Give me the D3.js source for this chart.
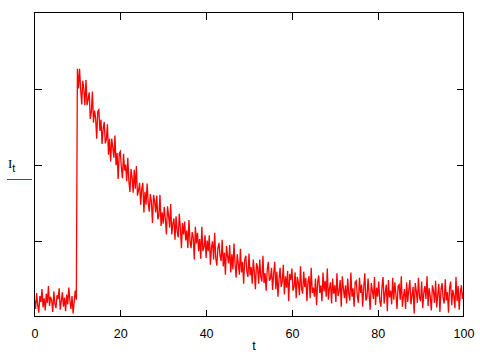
<!DOCTYPE html>
<html>
<head>
<meta charset="utf-8">
<script src="https://cdn.jsdelivr.net/npm/d3@7"></script>
<style>
  html, body { margin: 0; padding: 0; background: #ffffff; }
  svg { display: block; }
  text { font-family: "Liberation Sans", Arial, sans-serif; fill: #000; }
</style>
</head>
<body>
<svg id="chart" width="480" height="354"></svg>
<script>
// ---- data ----
const seriesName = "I";
const seriesSub = "t";
const xLabel = "t";
const xTicks = [0, 20, 40, 60, 80, 100];
const yTicks = [1, 2, 3];
const xDomain = [0, 100];
const yDomain = [0, 4];
const tStep = 0.25;
// I_t sampled every 0.25 from t = 0 to t = 100
const baseline = [
  0.22,0.10,0.31,0.15,0.05,0.27,0.19,0.36,0.12,0.24,
  0.08,0.30,0.18,0.40,0.14,0.26,0.21,0.06,0.33,0.17,
  0.11,0.28,0.23,0.37,0.09,0.20,0.32,0.13,0.25,0.07,
  0.29,0.16,0.38,0.21,0.10,0.27,0.04,0.19,0.34,0.22
];
const decay = [
  3.26,3.00,3.26,3.00,2.79,3.10,2.99,2.78,3.11,2.78,2.86,2.95,2.60,2.69,2.96,2.55,2.71,2.61,2.34,2.70,
  2.72,2.44,2.59,2.27,2.47,2.56,2.28,2.33,2.53,2.13,2.34,2.04,2.34,2.22,2.09,2.38,1.99,2.15,1.81,2.14,
  2.17,1.96,1.82,2.14,1.92,2.00,1.78,2.09,1.78,1.64,1.94,1.83,1.63,1.93,1.68,1.98,1.59,1.66,1.76,1.47,
  1.68,1.76,1.37,1.64,1.47,1.75,1.50,1.38,1.61,1.51,1.23,1.60,1.52,1.37,1.59,1.28,1.33,1.60,1.19,1.37,
  1.22,1.44,1.28,1.08,1.45,1.33,1.17,1.48,1.08,1.22,1.29,1.01,1.32,1.12,1.04,1.35,1.17,0.90,1.23,1.08,
  1.25,1.00,1.13,0.90,1.27,0.99,0.90,1.11,1.04,0.75,1.18,0.96,1.10,0.86,1.02,0.76,1.18,0.86,0.91,1.07,
  0.77,1.00,0.86,1.07,0.68,0.91,0.99,0.75,1.10,0.77,0.67,0.90,0.97,0.80,0.73,1.01,0.66,0.84,0.55,0.93,
  0.79,0.70,0.94,0.58,0.82,0.62,0.96,0.69,0.51,0.82,0.70,0.55,0.89,0.58,0.72,0.43,0.75,0.80,0.59,0.52,
  0.83,0.54,0.65,0.43,0.75,0.58,0.36,0.70,0.65,0.43,0.75,0.52,0.46,0.80,0.44,0.57,0.34,0.62,0.72,0.47,
  0.50,0.64,0.35,0.56,0.72,0.36,0.59,0.26,0.49,0.64,0.39,0.46,0.68,0.29,0.53,0.38,0.60,0.20,0.56,0.48,
  0.63,0.34,0.39,0.58,0.24,0.52,0.45,0.28,0.66,0.37,0.30,0.59,0.39,0.51,0.20,0.46,0.53,0.24,0.64,0.31,
  0.38,0.26,0.50,0.15,0.45,0.54,0.31,0.41,0.20,0.58,0.33,0.47,0.26,0.63,0.22,0.37,0.45,0.17,0.50,0.30,
  0.41,0.19,0.57,0.27,0.33,0.48,0.13,0.53,0.37,0.24,0.41,0.17,0.50,0.30,0.21,0.58,0.26,0.37,0.13,0.45,
  0.47,0.27,0.18,0.51,0.31,0.42,0.13,0.38,0.57,0.21,0.25,0.50,0.29,0.09,0.44,0.34,0.23,0.52,0.15,0.38,
  0.26,0.46,0.20,0.13,0.39,0.52,0.17,0.31,0.42,0.07,0.48,0.25,0.34,0.16,0.51,0.22,0.45,0.29,0.10,0.40,
  0.42,0.22,0.53,0.13,0.27,0.36,0.10,0.45,0.19,0.35,0.48,0.16,0.28,0.39,0.04,0.44,0.33,0.18,0.51,0.25,
  0.20,0.46,0.11,0.31,0.40,0.23,0.53,0.14,0.37,0.26,0.08,0.41,0.34,0.18,0.47,0.12,0.29,0.43,0.06,0.35,
  0.44,0.24,0.17,0.49,0.21,0.32,0.05,0.38,0.46,0.15,0.35,0.27,0.11,0.52,0.20,0.40,0.09,0.31,0.41,0.23,
  0.32
];
const values = baseline.concat(decay);

// ---- layout ----
const svg = d3.select("#chart");
const padL = 34.5, padR = 463.5, padT = 12.5, padB = 316.5;

const x = d3.scaleLinear().domain(xDomain).range([padL, padR]);
const y = d3.scaleLinear().domain(yDomain).range([padB, padT]);

svg.append("rect").attr("width", 480).attr("height", 354).attr("fill", "#ffffff");

// data line
const pts = values.map((v, i) => [i * tStep, v]);
const line = d3.line().x(d => x(d[0])).y(d => y(d[1]));
svg.append("path")
  .datum(pts)
  .attr("d", line)
  .attr("fill", "none")
  .attr("stroke", "#ff0000")
  .attr("stroke-width", 1.3)
  .attr("stroke-linejoin", "miter");

// frame
svg.append("rect")
  .attr("x", padL).attr("y", padT)
  .attr("width", padR - padL).attr("height", padB - padT)
  .attr("fill", "none").attr("stroke", "#000").attr("stroke-width", 1)
  .attr("shape-rendering", "crispEdges");

// axes (ticks inside)
const tickLen = 7;
const xAxisB = d3.axisBottom(x).tickValues(xTicks).tickSize(-tickLen).tickPadding(tickLen + 6).tickFormat(d3.format("d"));
const gB = svg.append("g").attr("transform", `translate(0,${padB})`).call(xAxisB);
gB.select(".domain").remove();
gB.selectAll(".tick line").filter(d => d === 0 || d === 100).remove();
gB.selectAll("text").attr("font-size", 12.5).attr("font-family", "Liberation Sans, Arial, sans-serif").attr("fill", "#000");
gB.selectAll("line").attr("stroke", "#000").attr("shape-rendering", "crispEdges");

const xAxisT = d3.axisTop(x).tickValues(xTicks.filter(d => d > 0 && d < 100)).tickSize(-tickLen).tickFormat("");
const gT = svg.append("g").attr("transform", `translate(0,${padT})`).call(xAxisT);
gT.select(".domain").remove();
gT.selectAll("line").attr("stroke", "#000").attr("shape-rendering", "crispEdges");

const yAxisL = d3.axisLeft(y).tickValues(yTicks).tickSize(-tickLen).tickFormat("");
const gL = svg.append("g").attr("transform", `translate(${padL},0)`).call(yAxisL);
gL.select(".domain").remove();
gL.selectAll("line").attr("stroke", "#000").attr("shape-rendering", "crispEdges");

const yAxisR = d3.axisRight(y).tickValues(yTicks).tickSize(-tickLen).tickFormat("");
const gR = svg.append("g").attr("transform", `translate(${padR},0)`).call(yAxisR);
gR.select(".domain").remove();
gR.selectAll("line").attr("stroke", "#000").attr("shape-rendering", "crispEdges");

// x label
svg.append("text")
  .attr("x", (padL + padR) / 2 + 5).attr("y", 350)
  .attr("text-anchor", "middle").attr("font-size", 12.5)
  .text(xLabel);

// legend label I_t with red sample line
const lg = svg.append("text").attr("x", 8).attr("y", 168).attr("font-size", 13);
lg.append("tspan").attr("font-family", "Liberation Serif, serif").text(seriesName);
lg.append("tspan").attr("dy", 4).attr("font-size", 11).text(seriesSub);
svg.append("line")
  .attr("x1", 7).attr("x2", 32).attr("y1", 179.5).attr("y2", 179.5)
  .attr("stroke", "#ff0000").attr("stroke-width", 1)
  .attr("shape-rendering", "crispEdges");
</script>
</body>
</html>
